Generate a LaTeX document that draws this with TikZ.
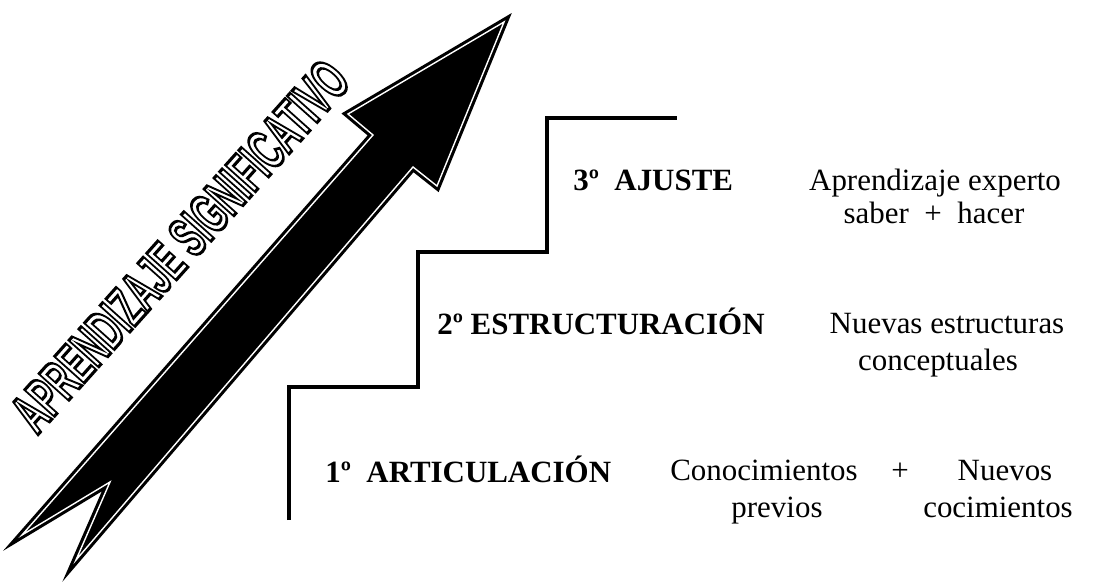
\documentclass[tikz,border=0pt]{standalone}
\usepackage{fontspec}
\setmainfont{Liberation Serif}
\newfontfamily\bannerfont{Liberation Sans}
\newcommand\outlinetext[1]{\special{pdf:literal direct 2 Tr 2.2 w 1 g 0 G}#1\special{pdf:literal direct 0 Tr 0 g}}
\begin{document}
\begin{tikzpicture}[x=0.025cm,y=-0.025cm,
    stage/.style={font=\fontsize{22}{26}\selectfont\bfseries, inner sep=0pt, anchor=base west},
    desc/.style={font=\fontsize{22}{26}\selectfont, inner sep=0pt, anchor=base}]
  \useasboundingbox (0,0) rectangle (1094,586);
  \draw[fill=black, line width=2.2pt, double=white, double distance=1pt, line join=miter]
    (504,22) -- (437,186) -- (413,167) -- (76,560) -- (110,482)
    -- (22,535) -- (373,135) -- (348,114) -- cycle;
  \node[rotate=48.2, xscale=0.56, inner sep=0pt,
        font=\bannerfont\bfseries\fontsize{41}{45}\selectfont]
    (banner) at (180,246) {\outlinetext{APRENDIZAJE SIGNIFICATIVO}};
  \draw[line width=3.4pt]
    (289,520) -- (289,387) -- (418,387) -- (418,252)
    -- (547,252) -- (547,118) -- (677,118);
  \node[stage] (s3) at (573,190) {3º\ \ AJUSTE};
  \node[stage] (s2) at (437,334) {2º ESTRUCTURACIÓN};
  \node[stage] (s1) at (325,482) {1º\ \ ARTICULACIÓN};
  \node[desc] (d3a) at (935,190) {Aprendizaje experto};
  \node[desc] (d3b) at (934,223) {saber\ \ +\ \ hacer};
  \node[desc] (d2a) at (947,333) {Nuevas estructuras};
  \node[desc] (d2b) at (938,370) {conceptuales};
  \node[desc] (d1a) at (764,480) {Conocimientos};
  \node[desc] (plus) at (900,480) {+};
  \node[desc] (d1c) at (1005,480) {Nuevos};
  \node[desc] (d1b) at (777,517) {previos};
  \node[desc] (d1d) at (998,517) {cocimientos};
\end{tikzpicture}
\end{document}
